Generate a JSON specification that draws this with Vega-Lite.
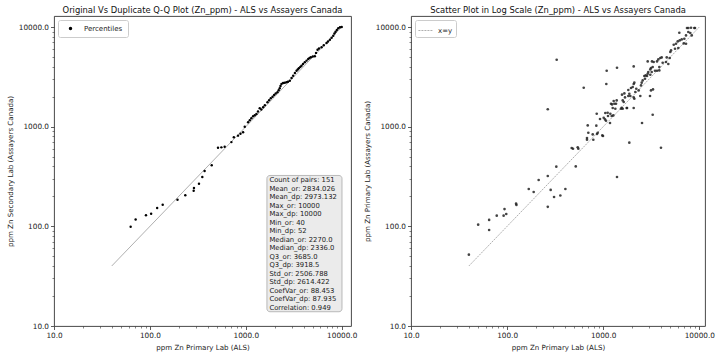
{
  "$schema": "https://vega.github.io/schema/vega-lite/v6.json",
  "background": "white",
  "padding": {"left": 5, "top": 5, "right": 5, "bottom": 5},
  "autosize": {"type": "pad"},
  "spacing": 60,
  "bounds": "flush",
  "config": {
    "font": "DejaVu Sans",
    "view": {"stroke": "#333", "strokeWidth": 0.9},
    "title": {"fontSize": 8.4, "fontWeight": "normal", "color": "#111", "offset": 2},
    "axis": {"domain": false, "grid": false, "labelFontSize": 7.3, "titleFontSize": 7.1, "titleFontWeight": "normal", "labelColor": "#222", "titleColor": "#222", "tickColor": "#333", "tickWidth": 0.8, "labelPadding": 2, "titlePadding": 5, "labelFlush": false, "labelOverlap": false, "labelBound": false},
    "legend": {"orient": "top-left", "offset": 4, "padding": 4, "strokeColor": "#ccc", "fillColor": "white", "cornerRadius": 2, "labelFontSize": 7, "labelColor": "#222", "title": null}
  },
  "resolve": {"scale": {"color": "independent"}, "legend": {"color": "independent"}},
  "datasets": {
    "ref": [{"x": 40, "y": 40}, {"x": 10000, "y": 10000}],
    "stats": [{"label": "Count of pairs: 151\nMean_or: 2834.026\nMean_dp: 2973.132\nMax_or: 10000\nMax_dp: 10000\nMin_or: 40\nMin_dp: 52\nMedian_or: 2270.0\nMedian_dp: 2336.0\nQ3_or: 3685.0\nQ3_dp: 3918.5\nStd_or: 2506.788\nStd_dp: 2614.422\nCoefVar_or: 88.453\nCoefVar_dp: 87.935\nCorrelation: 0.949"}],
    "qq": [
      {"x": 63, "y": 99}, {"x": 71, "y": 117}, {"x": 91, "y": 129}, {"x": 103, "y": 134}, {"x": 119, "y": 153}, {"x": 136, "y": 165},
      {"x": 194, "y": 185}, {"x": 234, "y": 205}, {"x": 286, "y": 228}, {"x": 288, "y": 243}, {"x": 325, "y": 268}, {"x": 352, "y": 313},
      {"x": 372, "y": 359}, {"x": 441, "y": 410}, {"x": 513, "y": 615}, {"x": 556, "y": 620}, {"x": 602, "y": 628}, {"x": 708, "y": 700},
      {"x": 750, "y": 783}, {"x": 830, "y": 813}, {"x": 880, "y": 850}, {"x": 937, "y": 879}, {"x": 975, "y": 1000}, {"x": 1057, "y": 1107},
      {"x": 1100, "y": 1160}, {"x": 1143, "y": 1214}, {"x": 1191, "y": 1271}, {"x": 1240, "y": 1300}, {"x": 1291, "y": 1340}, {"x": 1340, "y": 1420},
      {"x": 1397, "y": 1531}, {"x": 1450, "y": 1490}, {"x": 1516, "y": 1566}, {"x": 1580, "y": 1640}, {"x": 1683, "y": 1757}, {"x": 1750, "y": 1840},
      {"x": 1821, "y": 1928}, {"x": 1900, "y": 2000}, {"x": 1974, "y": 2080}, {"x": 2050, "y": 2150}, {"x": 2138, "y": 2213}, {"x": 2200, "y": 2320},
      {"x": 2259, "y": 2427}, {"x": 2300, "y": 2560}, {"x": 2354, "y": 2679}, {"x": 2450, "y": 2740}, {"x": 2550, "y": 2760}, {"x": 2655, "y": 2786},
      {"x": 2750, "y": 2830}, {"x": 2877, "y": 2893}, {"x": 3000, "y": 3080}, {"x": 3119, "y": 3251}, {"x": 3250, "y": 3450}, {"x": 3381, "y": 3648},
      {"x": 3480, "y": 3750}, {"x": 3573, "y": 3855}, {"x": 3700, "y": 3980}, {"x": 3809, "y": 4093}, {"x": 3950, "y": 4250}, {"x": 4122, "y": 4426},
      {"x": 4300, "y": 4600}, {"x": 4474, "y": 4775}, {"x": 4620, "y": 4880}, {"x": 4768, "y": 4966}, {"x": 5000, "y": 5050}, {"x": 5248, "y": 5080},
      {"x": 5400, "y": 5500}, {"x": 5598, "y": 5916}, {"x": 5800, "y": 6080}, {"x": 6166, "y": 6252}, {"x": 6500, "y": 6560}, {"x": 6951, "y": 6918},
      {"x": 7200, "y": 7150}, {"x": 7534, "y": 7466}, {"x": 7850, "y": 7800}, {"x": 8166, "y": 8184}, {"x": 8400, "y": 8600}, {"x": 8630, "y": 8974},
      {"x": 8900, "y": 9350}, {"x": 9204, "y": 9704}, {"x": 9600, "y": 9950}, {"x": 10000, "y": 10000}
    ],
    "scatter": [
      {"als": 40, "ac": 52}, {"als": 50, "ac": 104}, {"als": 65, "ac": 116}, {"als": 65, "ac": 92}, {"als": 78, "ac": 128}, {"als": 92, "ac": 128},
      {"als": 94, "ac": 149}, {"als": 98, "ac": 133}, {"als": 124, "ac": 169}, {"als": 125, "ac": 164}, {"als": 168, "ac": 237}, {"als": 189, "ac": 221},
      {"als": 213, "ac": 292}, {"als": 265, "ac": 320}, {"als": 265, "ac": 157}, {"als": 284, "ac": 232}, {"als": 308, "ac": 197}, {"als": 325, "ac": 397},
      {"als": 358, "ac": 204}, {"als": 404, "ac": 237}, {"als": 518, "ac": 399}, {"als": 1392, "ac": 313}, {"als": 3990, "ac": 615}, {"als": 265, "ac": 1497},
      {"als": 328, "ac": 4700}, {"als": 470, "ac": 611}, {"als": 485, "ac": 601}, {"als": 543, "ac": 620}, {"als": 551, "ac": 601}, {"als": 678, "ac": 769},
      {"als": 678, "ac": 740}, {"als": 789, "ac": 740}, {"als": 700, "ac": 869}, {"als": 877, "ac": 869}, {"als": 862, "ac": 844}, {"als": 995, "ac": 806},
      {"als": 690, "ac": 1030}, {"als": 848, "ac": 1023}, {"als": 856, "ac": 1349}, {"als": 926, "ac": 1194}, {"als": 1012, "ac": 1230}, {"als": 1044, "ac": 1183},
      {"als": 1069, "ac": 1148}, {"als": 1113, "ac": 1380}, {"als": 1177, "ac": 1088}, {"als": 1186, "ac": 1349}, {"als": 1226, "ac": 1279}, {"als": 1274, "ac": 1298},
      {"als": 1236, "ac": 1673}, {"als": 1286, "ac": 1810}, {"als": 1359, "ac": 1700}, {"als": 1337, "ac": 1514}, {"als": 1256, "ac": 1539}, {"als": 1531, "ac": 1514},
      {"als": 1596, "ac": 1514}, {"als": 1757, "ac": 1539}, {"als": 1596, "ac": 1835}, {"als": 1635, "ac": 1769}, {"als": 1660, "ac": 2157}, {"als": 1869, "ac": 2142},
      {"als": 1824, "ac": 2030}, {"als": 1869, "ac": 691}, {"als": 627, "ac": 2460}, {"als": 1087, "ac": 3645}, {"als": 1392, "ac": 3905}, {"als": 1077, "ac": 2680},
      {"als": 2076, "ac": 4025}, {"als": 2076, "ac": 1539}, {"als": 1569, "ac": 2094}, {"als": 1686, "ac": 1966}, {"als": 1914, "ac": 2030}, {"als": 2076, "ac": 1966},
      {"als": 2108, "ac": 1908}, {"als": 1824, "ac": 2333}, {"als": 1946, "ac": 2443}, {"als": 2028, "ac": 2500}, {"als": 2076, "ac": 2680}, {"als": 2108, "ac": 2763},
      {"als": 2209, "ac": 2405}, {"als": 2158, "ac": 2228}, {"als": 2340, "ac": 2312}, {"als": 2432, "ac": 2030}, {"als": 2473, "ac": 2594}, {"als": 2516, "ac": 2763},
      {"als": 2576, "ac": 2912}, {"als": 2722, "ac": 3030}, {"als": 2679, "ac": 3223}, {"als": 2767, "ac": 3268}, {"als": 2857, "ac": 3223}, {"als": 2904, "ac": 3399},
      {"als": 2945, "ac": 3537}, {"als": 3090, "ac": 3755}, {"als": 3142, "ac": 3878}, {"als": 3197, "ac": 3537}, {"als": 3090, "ac": 3322}, {"als": 3273, "ac": 3969},
      {"als": 3352, "ac": 4454}, {"als": 3459, "ac": 3645}, {"als": 3631, "ac": 3645}, {"als": 3836, "ac": 3670}, {"als": 3631, "ac": 4518}, {"als": 3744, "ac": 4731},
      {"als": 3926, "ac": 4887}, {"als": 4061, "ac": 4955}, {"als": 2904, "ac": 4518}, {"als": 3219, "ac": 4518}, {"als": 4581, "ac": 4955}, {"als": 4920, "ac": 4887},
      {"als": 4159, "ac": 4385}, {"als": 4500, "ac": 4454}, {"als": 4756, "ac": 4256}, {"als": 3836, "ac": 3969}, {"als": 3142, "ac": 2312}, {"als": 3297, "ac": 2366},
      {"als": 3069, "ac": 2030}, {"als": 3273, "ac": 1318}, {"als": 2535, "ac": 1088}, {"als": 4992, "ac": 5611}, {"als": 5079, "ac": 5825}, {"als": 5585, "ac": 6058},
      {"als": 6043, "ac": 6157}, {"als": 5418, "ac": 6641}, {"als": 5724, "ac": 6797}, {"als": 6192, "ac": 8768}, {"als": 5962, "ac": 7171}, {"als": 6251, "ac": 7338},
      {"als": 6561, "ac": 7508}, {"als": 6885, "ac": 6844}, {"als": 7272, "ac": 6797}, {"als": 6982, "ac": 7633}, {"als": 7272, "ac": 8237}, {"als": 7447, "ac": 9772},
      {"als": 7687, "ac": 9772}, {"als": 8199, "ac": 9840}, {"als": 7687, "ac": 8913}, {"als": 8057, "ac": 8710}, {"als": 8872, "ac": 9772}, {"als": 9016, "ac": 9772},
      {"als": 8337, "ac": 8237}, {"als": 778, "ac": 836}, {"als": 979, "ac": 817}, {"als": 1122, "ac": 1279}, {"als": 1052, "ac": 1371}, {"als": 1381, "ac": 1835},
      {"als": 1205, "ac": 1700}, {"als": 1770, "ac": 1539}, {"als": 1558, "ac": 1545}, {"als": 1306, "ac": 1700}
    ]
  },
  "hconcat": [
    {
      "width": 297,
      "height": 310,
      "title": "Original Vs Duplicate Q-Q Plot (Zn_ppm) - ALS vs Assayers Canada",
      "resolve": {"axis": {"x": "independent", "y": "independent"}},
      "layer": [
        {
          "data": {"name": "ref"},
          "mark": {"type": "line", "color": "#9a9a9a", "strokeWidth": 0.8},
          "encoding": {
            "x": {"field": "x", "type": "quantitative", "scale": {"type": "log", "domain": [10, 12500], "nice": false},
                  "axis": {"orient": "bottom", "values": [20,30,40,50,60,70,80,90,200,300,400,500,600,700,800,900,2000,3000,4000,5000,6000,7000,8000,9000], "labels": false, "tickSize": 2, "tickWidth": 0.6, "title": null}},
            "y": {"field": "y", "type": "quantitative", "scale": {"type": "log", "domain": [10, 12900], "nice": false},
                  "axis": {"orient": "left", "values": [20,30,40,50,60,70,80,90,200,300,400,500,600,700,800,900,2000,3000,4000,5000,6000,7000,8000,9000], "labels": false, "tickSize": 2, "tickWidth": 0.6, "title": null}}
          }
        },
        {
          "data": {"name": "qq"},
          "mark": {"type": "point", "filled": true, "size": 6, "opacity": 1, "shape": "circle"},
          "encoding": {
            "x": {"field": "x", "type": "quantitative", "scale": {"type": "log", "domain": [10, 12500], "nice": false},
                  "axis": {"orient": "bottom", "values": [10, 100, 1000, 10000], "labelExpr": "format(datum.value, '.1f')", "tickSize": 3.5, "title": "ppm Zn Primary Lab (ALS)"}},
            "y": {"field": "y", "type": "quantitative", "scale": {"type": "log", "domain": [10, 12900], "nice": false},
                  "axis": {"orient": "left", "values": [10, 100, 1000, 10000], "labelExpr": "format(datum.value, '.1f')", "tickSize": 3.5, "title": "ppm Zn Secondary Lab (Assayers Canada)"}},
            "color": {"datum": "Percentiles", "scale": {"range": ["#000000"]}, "legend": {"symbolSize": 12, "symbolType": "circle", "symbolOffset": 4, "labelOffset": 10, "padding": 5}}
          }
        },
        {
          "data": {"name": "stats"},
          "mark": {"type": "rect", "fill": "#ebebeb", "stroke": "#aaaaaa", "strokeWidth": 0.8, "cornerRadius": 3},
          "encoding": {
            "x": {"datum": 1660, "type": "quantitative", "axis": null},
            "x2": {"datum": 10070},
            "y": {"datum": 324, "type": "quantitative", "axis": null},
            "y2": {"datum": 13.9}
          }
        },
        {
          "data": {"name": "stats"},
          "mark": {"type": "text", "align": "left", "baseline": "top", "fontSize": 6.8, "lineHeight": 8.5, "lineBreak": "\n", "color": "#222"},
          "encoding": {
            "x": {"datum": 1762, "type": "quantitative", "axis": null},
            "y": {"datum": 312, "type": "quantitative", "axis": null},
            "text": {"field": "label"}
          }
        }
      ]
    },
    {
      "width": 294,
      "height": 310,
      "title": "Scatter Plot in Log Scale (Zn_ppm) - ALS vs Assayers Canada",
      "resolve": {"axis": {"x": "independent", "y": "independent"}},
      "layer": [
        {
          "data": {"name": "ref"},
          "mark": {"type": "line", "strokeWidth": 0.8, "strokeDash": [2, 1]},
          "encoding": {
            "x": {"field": "x", "type": "quantitative", "scale": {"type": "log", "domain": [10, 11460], "nice": false},
                  "axis": {"orient": "bottom", "values": [20,30,40,50,60,70,80,90,200,300,400,500,600,700,800,900,2000,3000,4000,5000,6000,7000,8000,9000], "labels": false, "tickSize": 2, "tickWidth": 0.6, "title": null}},
            "y": {"field": "y", "type": "quantitative", "scale": {"type": "log", "domain": [10, 12900], "nice": false},
                  "axis": {"orient": "left", "values": [20,30,40,50,60,70,80,90,200,300,400,500,600,700,800,900,2000,3000,4000,5000,6000,7000,8000,9000], "labels": false, "tickSize": 2, "tickWidth": 0.6, "title": null}},
            "color": {"datum": "x=y", "scale": {"range": ["#9a9a9a"]}, "legend": {"symbolType": "stroke", "symbolSize": 200, "symbolStrokeWidth": 0.8, "symbolDash": [2, 1], "labelOffset": 5, "padding": 3}}
          }
        },
        {
          "data": {"name": "scatter"},
          "mark": {"type": "point", "filled": true, "size": 7, "opacity": 0.85, "color": "#222", "shape": "circle"},
          "encoding": {
            "x": {"field": "als", "type": "quantitative", "scale": {"type": "log", "domain": [10, 11460], "nice": false},
                  "axis": {"orient": "bottom", "values": [10, 100, 1000, 10000], "labelExpr": "format(datum.value, '.1f')", "tickSize": 3.5, "title": "ppm Zn Primary Lab (ALS)"}},
            "y": {"field": "ac", "type": "quantitative", "scale": {"type": "log", "domain": [10, 12900], "nice": false},
                  "axis": {"orient": "left", "values": [10, 100, 1000, 10000], "labelExpr": "format(datum.value, '.1f')", "tickSize": 3.5, "title": "ppm Zn Primary Lab (Assayers Canada)"}}
          }
        }
      ]
    }
  ]
}
